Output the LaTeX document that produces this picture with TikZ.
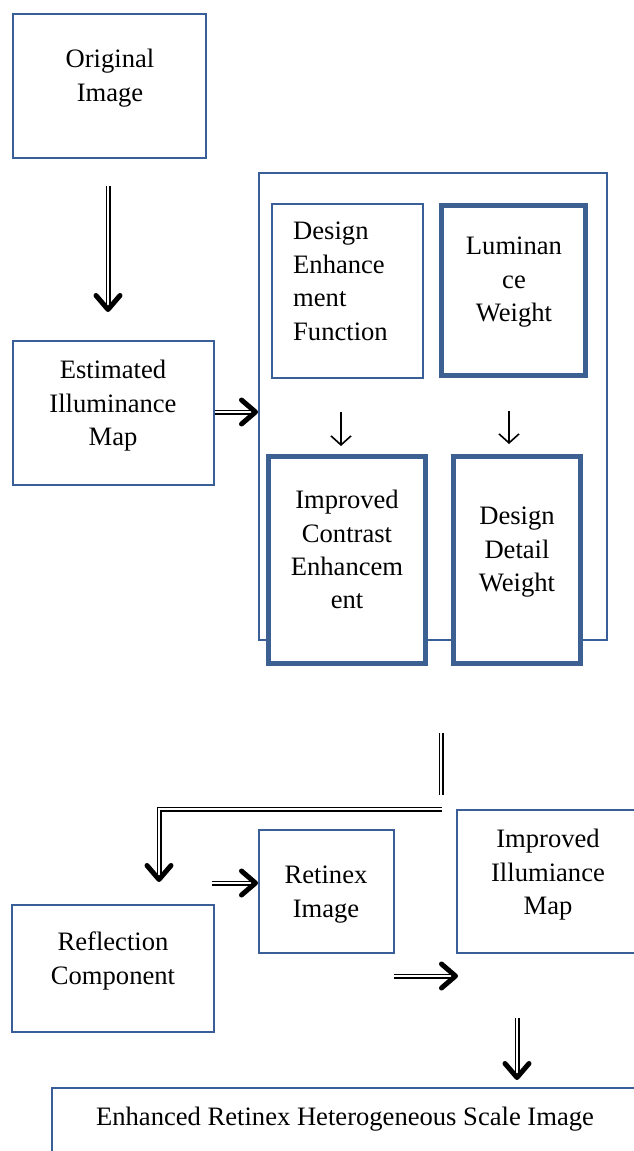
\documentclass[tikz,border=0pt]{standalone}
\usepackage{fontspec}
\setmainfont{Liberation Serif}
\usetikzlibrary{arrows.meta}
\definecolor{thinblue}{RGB}{58,94,152}
\definecolor{thickblue}{RGB}{61,96,146}
\tikzset{
  thinbox/.style={draw=thinblue, line width=2pt, fill=white, inner sep=0pt},
  thickbox/.style={draw=thickblue, line width=5pt, fill=white, inner sep=0pt},
  txt/.style={inner sep=0pt, align=center, font=\fontsize{26.6}{33.4}\selectfont},
  dblarrow/.style={draw=black, line width=1.5pt, double=white, double distance=2pt,
     -{Straight Barb[length=14pt, width=24pt, line width=5pt, round]}},
  dblline/.style={draw=black, line width=1.5pt, double=white, double distance=2pt},
  thinarrow/.style={draw=black, line width=1.5pt,
     -{Straight Barb[length=9pt, width=20pt, line width=1.6pt]}}
}
\begin{document}
\begin{tikzpicture}[x=1pt, y=-1pt]
\useasboundingbox (0,0) rectangle (633,1151);
% boxes
\node[thinbox, minimum width=193pt, minimum height=144pt] (orig) at (109.5,86) {};
\node[thinbox, minimum width=201pt, minimum height=144pt] (est) at (113.5,413) {};
\node[thinbox, minimum width=348pt, minimum height=467pt] (cont) at (433,406.5) {};
\node[thinbox, minimum width=151pt, minimum height=174pt] (def) at (347.5,291) {};
\node[thickbox, minimum width=144pt, minimum height=170pt] (lum) at (513.5,290.5) {};
\node[thickbox, minimum width=157pt, minimum height=207pt] (ice) at (347,560) {};
\node[thickbox, minimum width=127pt, minimum height=207pt] (ddw) at (517,560) {};
\node[thinbox, minimum width=135pt, minimum height=123pt] (ret) at (326.5,891.5) {};
\node[thinbox, minimum width=190pt, minimum height=143pt] (iim) at (552,881.5) {};
\node[thinbox, minimum width=202pt, minimum height=127pt] (refl) at (113,968.5) {};
\node[thinbox, minimum width=600pt, minimum height=120pt] (enh) at (352,1148) {};
% texts
\node[txt, anchor=north] (torig) at (110,49) {Original\\Image};
\node[txt, anchor=north] (test) at (113,360) {Estimated\\Illuminance\\Map};
\node[txt, anchor=north west, align=left] (tdef) at (293,222) {Design\\Enhance\\ment\\Function};
\node[txt, anchor=north] (tlum) at (514,237) {Luminan\\ce\\Weight};
\node[txt, anchor=north] (tice) at (347,490) {Improved\\Contrast\\Enhancem\\ent};
\node[txt, anchor=north] (tddw) at (517,507) {Design\\Detail\\Weight};
\node[txt, anchor=north] (tret) at (326,866) {Retinex\\Image};
\node[txt, anchor=north] (tiim) at (548,829) {Improved\\Illumiance\\Map};
\node[txt, anchor=north] (trefl) at (113,932) {Reflection\\Component};
\node[txt, anchor=north] (tenh) at (345,1107) {Enhanced Retinex Heterogeneous Scale Image};
% coordinates
\coordinate (a1s) at (108,186);
\coordinate (a1e) at (108,312);
\coordinate (v1s) at (441,733);
\coordinate (v1e) at (441,795);
\coordinate (h1s) at (442,809);
\coordinate (h1c) at (159,809);
\coordinate (h1e) at (159,882);
\coordinate (r1s) at (212,883);
\coordinate (i1s) at (394,976);
\coordinate (i1e) at (458,976);
\coordinate (e1s) at (517,1018);
\coordinate (e1e) at (517,1080);
\coordinate (t1s) at (341,412);
\coordinate (t1e) at (341,446);
\coordinate (t2s) at (509,411);
\coordinate (t2e) at (509,444);
% connectors
\draw[dblarrow] (a1s) -- (a1e);
\draw[dblarrow] (est.east |- 0,412) -- (cont.west |- 0,412);
\draw[thinarrow] (t1s) -- (t1e);
\draw[thinarrow] (t2s) -- (t2e);
\draw[dblline] (v1s) -- (v1e);
\draw[dblarrow] (h1s) -- (h1c) -- (h1e);
\draw[dblarrow] (r1s) -- (r1s -| ret.west);
\draw[dblarrow] (i1s) -- (i1e);
\draw[dblarrow] (e1s) -- (e1e);
\end{tikzpicture}
\end{document}
